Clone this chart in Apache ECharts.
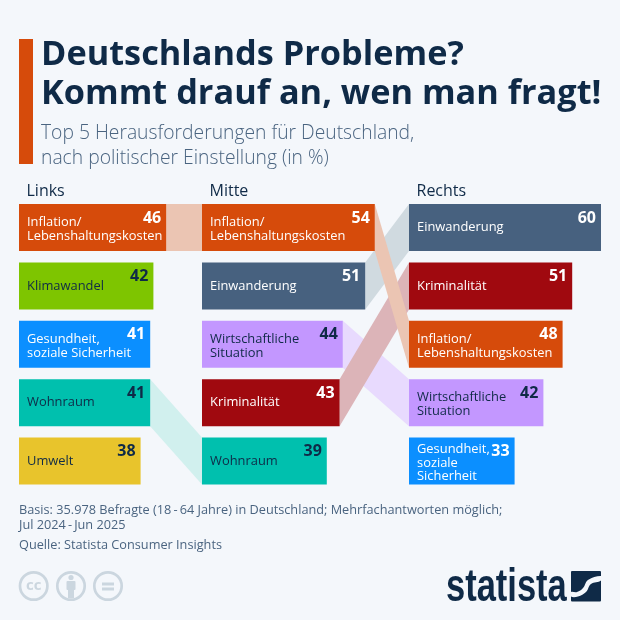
<!DOCTYPE html>
<html>
<head>
<meta charset="utf-8">
<style>
  html, body { margin: 0; padding: 0; background: #f4f7fb; }
  #chart { width: 620px; height: 620px; }
</style>
<script src="https://cdn.jsdelivr.net/npm/echarts@6/dist/echarts.min.js"></script>
</head>
<body>
<div id="chart"></div>
<script>
// Spalten
const columnNames = ['Links', 'Mitte', 'Rechts']
const linksCategories = ['Inflation/\nLebenshaltungskosten', 'Klimawandel', 'Gesundheit,\nsoziale Sicherheit', 'Wohnraum', 'Umwelt']
const linksValues = [46, 42, 41, 41, 38]
const mitteCategories = ['Inflation/\nLebenshaltungskosten', 'Einwanderung', 'Wirtschaftliche\nSituation', 'Kriminalität', 'Wohnraum']
const mitteValues = [54, 51, 44, 43, 39]
const rechtsCategories = ['Einwanderung', 'Kriminalität', 'Inflation/\nLebenshaltungskosten', 'Wirtschaftliche\nSituation', 'Gesundheit,\nsoziale\nSicherheit']
const rechtsValues = [60, 51, 48, 42, 33]

const categories = [linksCategories, mitteCategories, rechtsCategories]
const values = [linksValues, mitteValues, rechtsValues]

const dark = '#0f2a47'
const slate = '#4a6480'
// Farbe je Thema: Balken, Verbindung, Text
const topicStyle = {
  Inflation: { bar: '#d64b0b', link: '#ebc5b3', text: '#fff' },
  Klimawandel: { bar: '#7ec500', link: '#dff0bf', text: dark },
  Gesundheit: { bar: '#0b8fff', link: '#c3e1fd', text: '#fff' },
  Wohnraum: { bar: '#00c0ae', link: '#d1f0ee', text: dark },
  Umwelt: { bar: '#e8c42c', link: '#f9f0ca', text: dark },
  Einwanderung: { bar: '#47617f', link: '#d0dae0', text: '#fff' },
  Wirtschaftliche: { bar: '#c397ff', link: '#e8dafe', text: dark },
  'Kriminalität': { bar: '#a0090f', link: '#dcb4b8', text: '#fff' }
}
const topicOf = name => name.split(/[\n,\/]/)[0]

const gridLeft = [19, 202, 409]
const barHeight = 47
const linkOrder = ['Wirtschaftliche', 'Wohnraum', 'Einwanderung', 'Kriminalität', 'Inflation']
const ccColor = '#cbd6df'

// Verbindungen zwischen benachbarten Spalten
let linkData = []
for (let c = 0; c < 2; c++) {
  categories[c].forEach((name, row) => {
    let other = categories[c + 1].findIndex(n => topicOf(n) === topicOf(name))
    if (other >= 0) linkData.push({ value: [c, row, values[c][row], other, linkOrder.indexOf(topicOf(name))], name: topicOf(name) })
  })
}
linkData.sort((a, b) => a.value[4] - b.value[4])

const chart = echarts.init(document.getElementById('chart'), null, { renderer: 'canvas' })

function renderLink(params, api) {
  let c = api.value(0), row = api.value(1), val = api.value(2), other = api.value(3)
  let a = chart.convertToPixel({ gridIndex: c }, [val, row])
  let b = chart.convertToPixel({ gridIndex: c + 1 }, [0, other])
  let h = barHeight / 2
  return {
    type: 'polygon',
    shape: { points: [[a[0], a[1] - h], [b[0], b[1] - h], [b[0], b[1] + h], [a[0], a[1] + h]] },
    style: { fill: topicStyle[linkData[params.dataIndex].name].link }
  }
}

let series = [{
  type: 'custom',
  coordinateSystem: 'none',
  renderItem: renderLink,
  data: linkData,
  silent: true,
  z: 1
}]

// Mehrzeilige Texte sitzen etwas tiefer
const textShift = [0, 0, 2, 2]

categories.forEach((cats, c) => {
  // Balken mit Wert oben rechts
  series.push({
    type: 'bar',
    xAxisIndex: c,
    yAxisIndex: c,
    barWidth: barHeight,
    silent: true,
    z: 3,
    data: values[c].map((v, i) => {
      let st = topicStyle[topicOf(cats[i])]
      return { value: v, itemStyle: { color: st.bar }, label: { color: st.text } }
    }),
    label: {
      show: true,
      position: 'insideTopRight',
      distance: 5,
      offset: [0, 1],
      fontFamily: 'Open Sans',
      fontWeight: 700,
      fontSize: 16
    }
  })
  // Themenname links im Balken
  series.push({
    type: 'bar',
    xAxisIndex: c,
    yAxisIndex: c,
    barWidth: barHeight,
    barGap: '-100%',
    silent: true,
    z: 4,
    data: values[c].map((v, i) => {
      let st = topicStyle[topicOf(cats[i])]
      let lines = cats[i].split('\n').length
      return {
        value: v,
        itemStyle: { color: 'transparent' },
        label: { color: st.text, formatter: cats[i], offset: [0, textShift[lines]], lineHeight: lines > 2 ? 13.5 : 14 }
      }
    }),
    label: {
      show: true,
      position: 'insideLeft',
      distance: 8,
      fontFamily: 'Open Sans',
      fontSize: 12.9
    }
  })
})

chart.setOption({
  animation: false,
  backgroundColor: '#f4f7fb',
  title: [
    {
      text: 'Deutschlands Probleme?\nKommt drauf an, wen man fragt!',
      left: 36, top: 31,
      textStyle: { fontFamily: 'Open Sans', fontWeight: 700, fontSize: 34.3, lineHeight: 39, color: dark }
    },
    {
      text: 'Top 5 Herausforderungen für Deutschland,\nnach politischer Einstellung (in %)',
      left: 36, top: 116,
      textStyle: { fontFamily: 'Open Sans', fontWeight: 300, fontSize: 19.3, lineHeight: 25, color: slate }
    },
    {
      text: 'Basis: 35.978 Befragte (18\u2009-\u200964 Jahre) in Deutschland; Mehrfachantworten möglich;\nJul 2024\u2009-\u2009Jun 2025',
      left: 14, top: 498,
      textStyle: { fontFamily: 'Open Sans', fontWeight: 400, fontSize: 12.72, lineHeight: 15, color: slate }
    },
    {
      text: 'Quelle: Statista Consumer Insights',
      left: 14, top: 533,
      textStyle: { fontFamily: 'Open Sans', fontWeight: 400, fontSize: 12.72, lineHeight: 15, color: slate }
    }
  ].concat(columnNames.map((name, c) => ({
    text: name,
    left: gridLeft[c] + 2.5, top: 176,
    textStyle: { fontFamily: 'Open Sans', fontWeight: 400, fontSize: 16, lineHeight: 20, color: dark }
  }))),
  grid: gridLeft.map(left => ({ left: left, top: 198.3, width: 192, height: 292 })),
  xAxis: gridLeft.map((_, c) => ({ type: 'value', gridIndex: c, min: 0, max: 60, show: false })),
  yAxis: categories.map((cats, c) => ({ type: 'category', gridIndex: c, data: cats, inverse: true, show: false })),
  series: series,
  graphic: [
    { type: 'rect', shape: { x: 19, y: 39, width: 14, height: 125 }, style: { fill: '#d64b0b' } },
    // CC
    { type: 'circle', shape: { cx: 33.7, cy: 586, r: 13.7 }, style: { fill: 'none', stroke: ccColor, lineWidth: 2.7 } },
    { type: 'text', x: 33.7, y: 586, style: { text: 'cc', fill: ccColor, font: '700 15px "Open Sans"', align: 'center', verticalAlign: 'middle' } },
    { type: 'circle', shape: { cx: 71, cy: 586, r: 13.7 }, style: { fill: 'none', stroke: ccColor, lineWidth: 2.7 } },
    { type: 'circle', shape: { cx: 71, cy: 577.5, r: 2.6 }, style: { fill: ccColor } },
    { type: 'rect', shape: { x: 66.5, y: 581, width: 9, height: 9, r: 1 }, style: { fill: ccColor } },
    { type: 'rect', shape: { x: 68, y: 589, width: 6, height: 9 }, style: { fill: ccColor } },
    { type: 'circle', shape: { cx: 108, cy: 586, r: 13.7 }, style: { fill: 'none', stroke: ccColor, lineWidth: 2.7 } },
    { type: 'rect', shape: { x: 102, y: 582.5, width: 12, height: 3 }, style: { fill: ccColor } },
    { type: 'rect', shape: { x: 102, y: 587.5, width: 12, height: 3 }, style: { fill: ccColor } },
    // Logo
    { type: 'text', x: 446, y: 588, scaleX: 0.75, style: { text: 'statista', fill: dark, font: '700 46px "Liberation Sans"', align: 'left', verticalAlign: 'middle' } },
    { type: 'rect', shape: { x: 571, y: 571, width: 30, height: 30.5, r: 1 }, style: { fill: dark } },
    { type: 'polygon', shape: { smooth: 0.4, points: [[571, 592], [577, 592], [583, 588], [588, 580], [601, 576], [601, 580.5], [591, 584], [586, 592], [578, 596.5], [571, 596.5]] }, style: { fill: '#f4f7fb' } }
  ]
})
</script>
</body>
</html>
